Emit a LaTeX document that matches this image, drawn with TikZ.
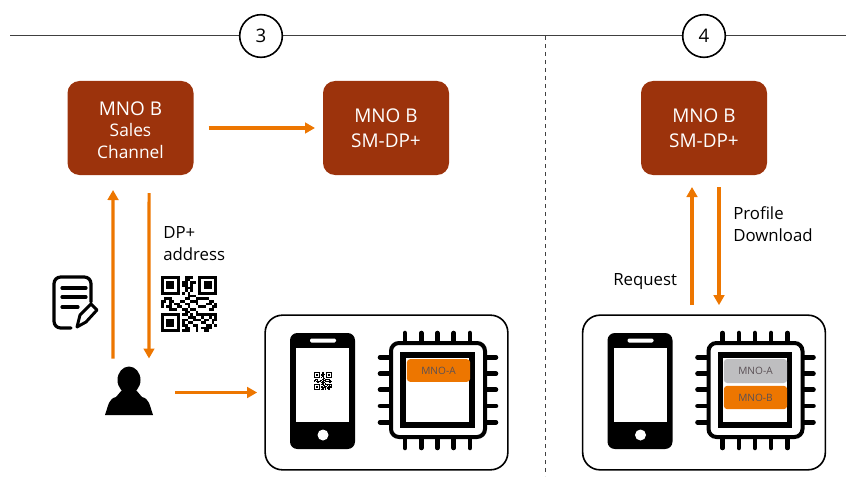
\documentclass[tikz,border=0pt]{standalone}
\usepackage{fontspec}
\setmainfont{Open Sans}
\usetikzlibrary{arrows.meta}
\definecolor{mnobrown}{RGB}{156,51,12}
\definecolor{mnoorange}{RGB}{237,118,0}
\definecolor{mnogray}{RGB}{190,190,192}
\definecolor{chiptext}{RGB}{90,80,85}
\tikzset{
    mnobox/.style={fill=mnobrown,text=white,rounded corners=9pt,minimum width=94.5pt,minimum height=70.5pt,inner sep=0pt,outer sep=0pt,align=center,font=\fontsize{14.2}{18.5}\selectfont},
    devicebox/.style={draw=black,line width=1.2pt,rounded corners=13pt,minimum width=182pt,minimum height=116pt,inner sep=0pt,outer sep=0pt},
    stepcircle/.style={draw=black,fill=white,circle,line width=1.2pt,minimum size=32pt,inner sep=0pt,font=\fontsize{14}{16}\selectfont},
    flow/.style={draw=mnoorange,line width=2.3pt,-{Triangle[length=7.5pt,width=8pt]}},
    plainlabel/.style={align=left,anchor=west,inner sep=0pt,font=\fontsize{12.6}{16.5}\selectfont},
    simlabel/.style={rounded corners=2.5pt,inner sep=0pt,minimum width=47.5pt,text=chiptext,font=\fontsize{7.6}{8}\selectfont},
    pics/phone/.style={code={
        \fill[black,rounded corners=5.5pt] (0,0) rectangle (65,116);
        \fill[white] (6,15) rectangle (59,89);
        \fill[white,rounded corners=1pt] (20,5.5) rectangle (46,9.5);
        \fill[white] (33,102) circle (5.5);
    }},
    pics/chip/.style={code={
        % Pins
        \foreach \p in {16,32.4,48.4,64.7,81} {
            \draw[line width=3.4pt,line cap=round] (\p,1) -- (\p,11);
            \draw[line width=3.4pt,line cap=round] (\p,106) -- (\p,116);
            \draw[line width=3.4pt,line cap=round] (-9,\p+9.3) -- (2,\p+9.3);
            \draw[line width=3.4pt,line cap=round] (98,\p+9.3) -- (107,\p+9.3);
        }
        % Body
        \draw[line width=3pt,fill=white,rounded corners=6pt] (2,11) rectangle (96,105);
        \draw[line width=3.8pt,fill=white] (14,23) rectangle (83,93);
    }},
    pics/qrcode/.style={code={
        % Finder squares
        \foreach \cx/\cy in {0/0,14/0,0/14} {
            \fill (\cx,\cy) rectangle ++(7,7);
            \fill[white] (\cx+1,\cy+1) rectangle ++(5,5);
            \fill (\cx+2,\cy+2) rectangle ++(3,3);
        }
        % Data modules
        \foreach \r/\cols in {0/{9,10,11},1/{9,10},2/{8,9,11,12},3/{8,9,11},4/{9,10,11},5/{9,11},6/{8,10},
            7/{10,11,12},8/{1,2,3,9,10,13,14,15,16,17},9/{0,1,3,4,7,8,11,12,13,18,19},10/{0,3,5,6,9,10,13,17,18,20},
            11/{0,2,3,6,7,10,14,15,16,19,20},12/{3,4,5,8,9,11,12,18,19},13/{9,10,13},
            14/{8,9,11,13,14,15,16,17,18,19,20},15/{10,11,12,15,18,20},16/{8,9,12,13,14,16,17,19,20},
            17/{8,10,11,15,16,19},18/{8,9,12,13,17,18,20},19/{9,10,13,15,16,17,18},20/{8,9,10,13,16,17}} {
            \foreach \c in \cols {
                \fill (\c,\r) rectangle ++(1.02,1.02);
            }
        }
    }},
}
\begin{document}
\begin{tikzpicture}[x=0.75pt,y=-0.75pt]
    \useasboundingbox (0,0) rectangle (846,478);
    % Top line and dashed divider
    \coordinate (lineleft) at (10,36);
    \coordinate (lineright) at (846,36);
    \coordinate (divtop) at (545,36);
    \coordinate (divbottom) at (545,476);
    \draw[line width=0.75pt,black!75] (lineleft) -- (lineright);
    \draw[line width=0.75pt,black!75,dashed] (divtop) -- (divbottom);
    \node[stepcircle] (stepthree) at (261,36) {3};
    \node[stepcircle] (stepfour) at (704,36) {4};
    % Boxes
    \node[mnobox] (sales) at (130.5,128) {\rule{0pt}{14pt}MNO B\\[-2.5pt]{\fontsize{13}{16.5}\selectfont Sales}\\[-2pt]{\fontsize{13}{16.5}\selectfont Channel}};
    \node[mnobox] (smdpa) at (386,128) {MNO B\\SM-DP+};
    \node[mnobox] (smdpb) at (704,128) {MNO B\\SM-DP+};
    \node[devicebox] (devicea) at (386.5,392.5) {};
    \node[devicebox] (deviceb) at (704,392.5) {};
    % Left device
    \pic at (290,333) {phone};
    \pic[scale=0.857] at (314,372) {qrcode};
    \pic at (389,332) {chip};
    \node[simlabel,fill=mnoorange,minimum height=17pt] (simone) at (438.5,370.5) {MNO-A};
    % Right device
    \pic at (607.5,333) {phone};
    \pic at (706.5,332) {chip};
    \node[simlabel,fill=mnogray,minimum height=18pt] (simtwo) at (755.5,371) {MNO-A};
    \node[simlabel,fill=mnoorange,minimum height=17.5pt] (simthree) at (755.5,397.5) {MNO-B};
    % User
    \node[minimum width=36pt,minimum height=36pt,inner sep=0pt,outer sep=0pt] (user) at (129,392.5) {};
    \fill[black] (129,380) ellipse (11.5 and 13.5);
    \fill[black] (105,415) .. controls (109,403) and (109,399) .. (116,397) -- (122,390) -- (136,390) -- (142,397) .. controls (149,399) and (149,403) .. (153,415) -- cycle;
    % Form
    \draw[line width=2.4pt,line cap=round,line join=round,rounded corners=5pt] (71,328) -- (54,328) -- (54,277) -- (91,277) -- (91,302);
    \draw[line width=2.4pt,line cap=round] (62,288) -- (86,288);
    \draw[line width=2.4pt,line cap=round] (62,297) -- (86,297);
    \draw[line width=2.4pt,line cap=round] (62,307) -- (78,307);
    \draw[line width=2.2pt,line join=round] (77,327) -- (80,315) -- (91,304) -- (97,310) -- (86,322) -- cycle;
    % QR code
    \pic[scale=2.67] at (161,276) {qrcode};
    % Labels
    \node[plainlabel] (dplabel) at (163,243.5) {DP+\\address};
    \node[plainlabel] (profilelabel) at (733,224) {Profile\\Download};
    \node[plainlabel] (requestlabel) at (613,282) {Request};
    % Arrows
    \draw[flow] ([xshift=11.25pt]sales.east) -- ([xshift=-6pt]smdpa.west);
    \draw[flow] ([xshift=-12pt,yshift=7.5pt]user.north) -- ([xshift=-13.1pt,yshift=-11.25pt]sales.south);
    \draw[flow] ([xshift=13.9pt,yshift=-13.5pt]sales.south) -- ([xshift=15pt,yshift=7.5pt]user.north);
    \draw[flow] ([xshift=34.5pt]user.center) -- ([xshift=-6pt]devicea.west);
    \draw[flow] ([xshift=-9pt,yshift=7.5pt]deviceb.north) -- ([xshift=-9pt,yshift=-9pt]smdpb.south);
    \draw[flow] ([xshift=11.25pt,yshift=-9pt]smdpb.south) -- ([xshift=11.25pt,yshift=7.5pt]deviceb.north);
\end{tikzpicture}
\end{document}
